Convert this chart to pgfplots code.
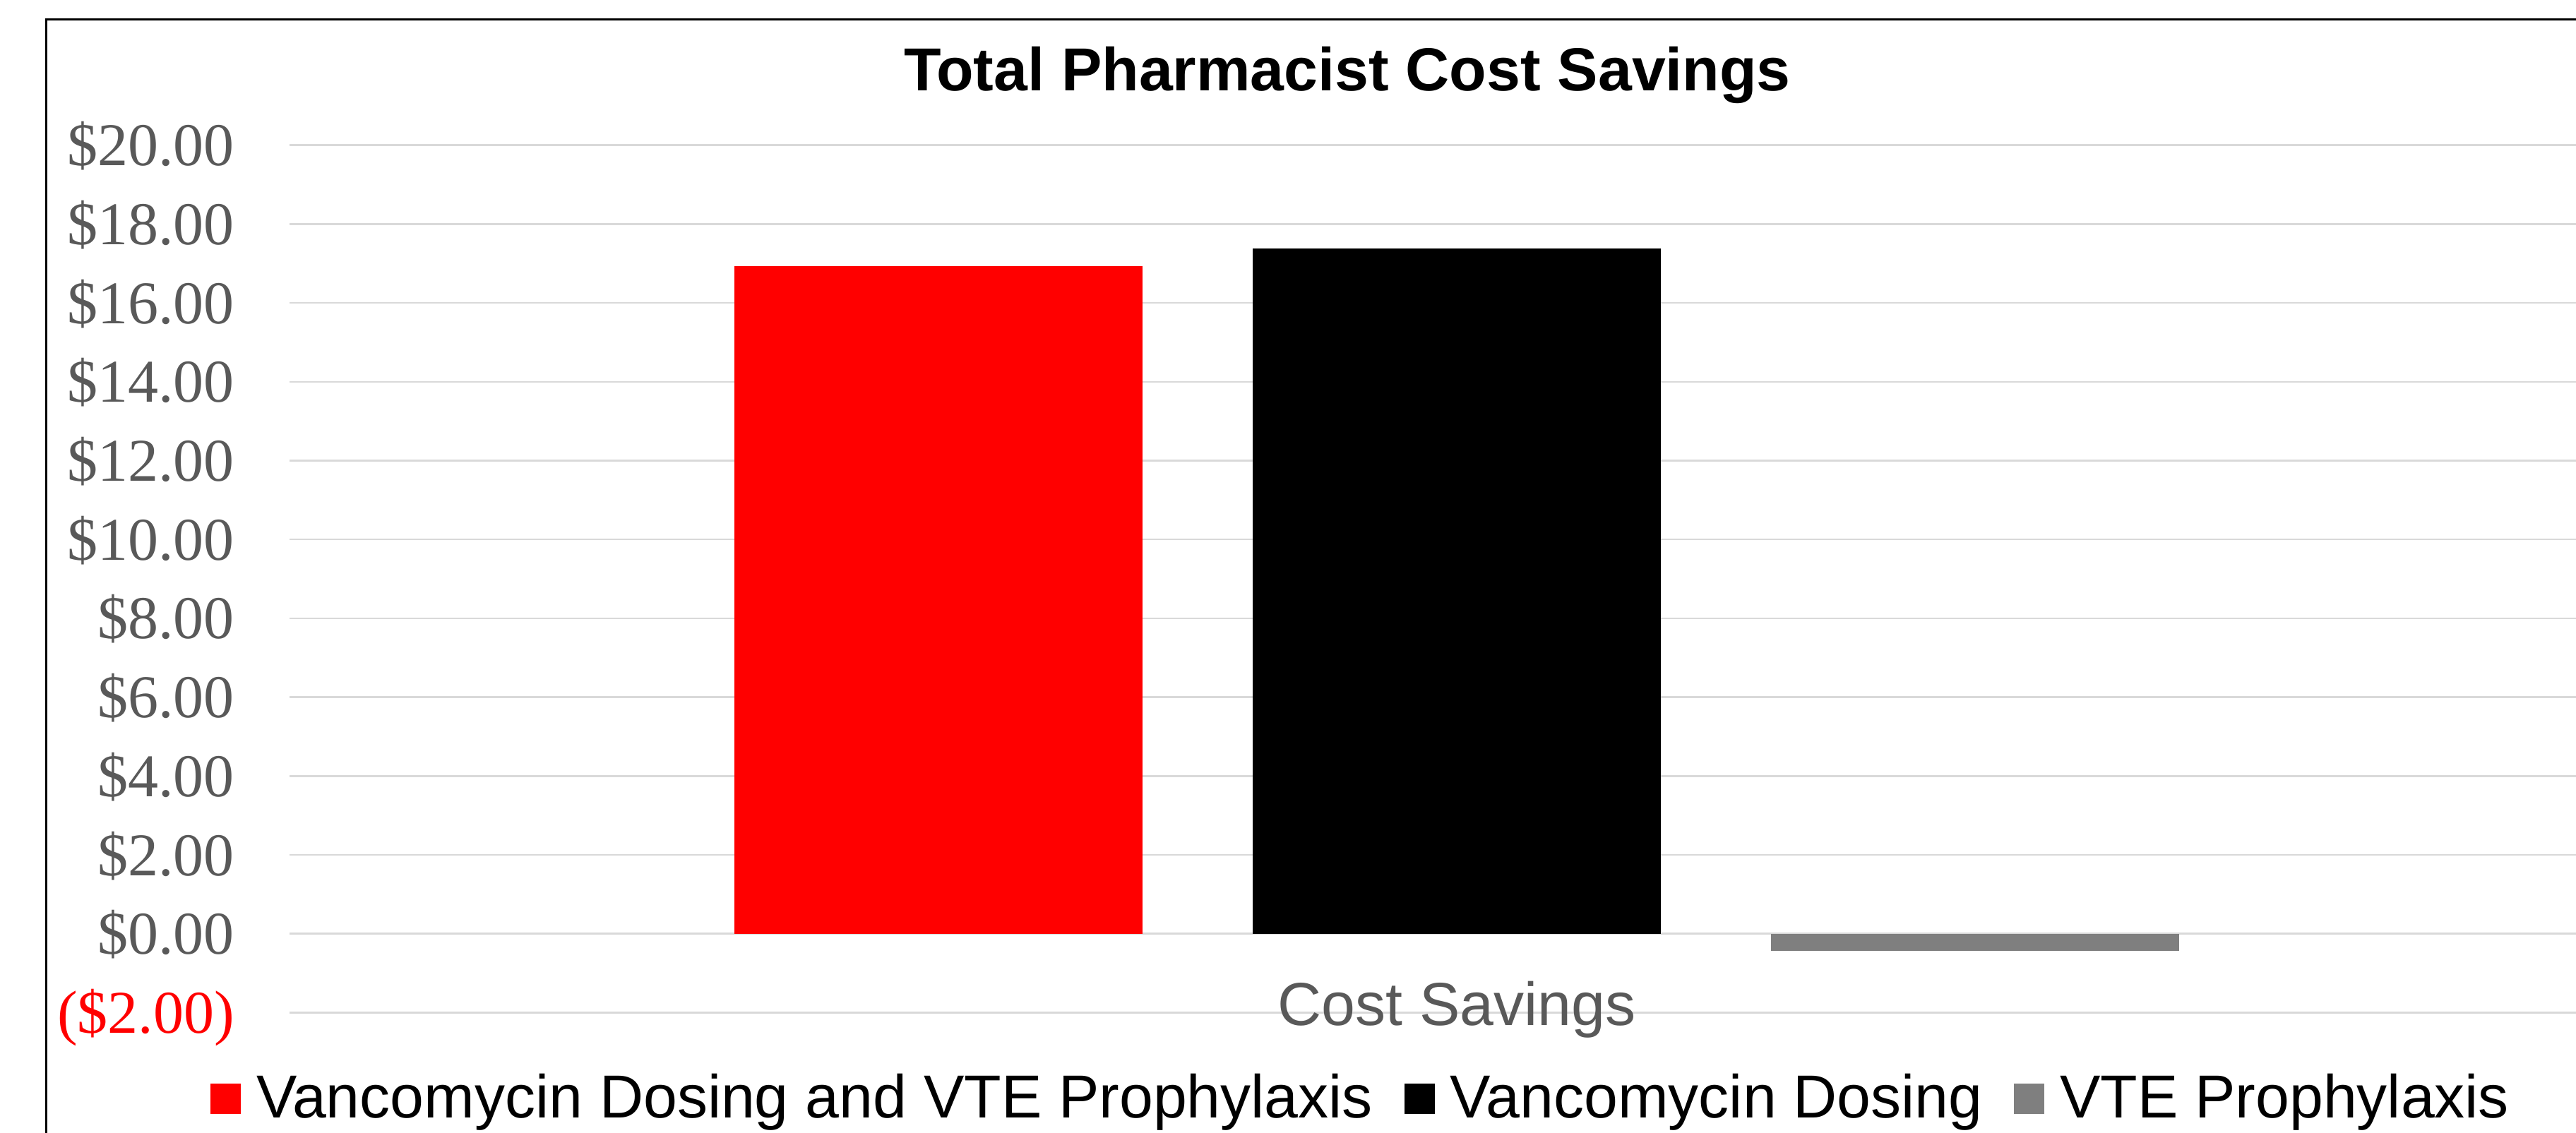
\documentclass[border=0pt]{standalone}
\usepackage{pgfplots}
\pgfplotsset{compat=1.18}
\usepackage{fontspec}
\setmainfont{Liberation Sans}
\newfontfamily\serifnum{Liberation Serif}

\definecolor{gridgray}{HTML}{D9D9D9}
\definecolor{labelgray}{HTML}{595959}
\definecolor{vtegray}{HTML}{7F7F7F}

\pgfplotsset{
  sq/.style={legend image code/.code={\draw[##1,/tikz/.cd,draw=none] (0pt,-2.8pt) rectangle (6pt,3.2pt);}},
}
\newcommand{\pad}{\hspace{2.5pt}}

\begin{document}
\begin{tikzpicture}
\begin{axis}[
    at={(0,0)}, anchor=south west,
    scale only axis,
    width=461.2pt, height=171.4pt,
    xmin=-0.5, xmax=0.5,
    ymin=-2, ymax=20,
    ybar=21.8pt, bar width=80.6pt,
    axis line style={draw=none},
    major tick length=0pt,
    ymajorgrids,
    major grid style={gridgray, line width=0.35pt},
    ytick={-2,0,...,20},
    % accounting format: positives keep room for the closing parenthesis
    yticklabels={\textcolor{red}{(\$2.00)},\$0.00\pad,\$2.00\pad,\$4.00\pad,\$6.00\pad,\$8.00\pad,\$10.00\pad,\$12.00\pad,\$14.00\pad,\$16.00\pad,\$18.00\pad,\$20.00\pad},
    yticklabel style={font=\serifnum\fontsize{12}{14}\selectfont, text=labelgray,
        anchor=base east, inner sep=0pt, xshift=-10.7pt, yshift=-4.06pt},
    xtick={0},
    xticklabels={Cost Savings},
    xticklabel style={font=\fontsize{12}{14}\selectfont, text=labelgray,
        anchor=base, inner sep=0pt, yshift=-2.5pt},
    title={Total Pharmacist Cost Savings},
    title style={at={(axis description cs:0.4531,1)}, anchor=base, yshift=4.7pt,
        inner sep=0pt, font=\bfseries\fontsize{12}{14}\selectfont},
    legend columns=3,
    legend style={at={(axis description cs:-0.0339,0)}, anchor=north west, yshift=-12.1pt,
        draw=none, fill=none, inner sep=0pt, outer sep=0pt,
        font=\fontsize{12}{14}\selectfont,
        nodes={inner sep=0pt},
        /tikz/every odd column/.append style={column sep=3.1pt},
        /tikz/every even column/.append style={column sep=6.2pt}},
]
% cost savings per series
\addplot[fill=red, draw=none, sq] coordinates {(0,16.94)};
\addplot[fill=black, draw=none, sq] coordinates {(0,17.38)};
\addplot[fill=vtegray, draw=none, sq] coordinates {(0,-0.44)};
\legend{Vancomycin Dosing and VTE Prophylaxis, Vancomycin Dosing, VTE Prophylaxis}
\end{axis}
% chart frame, cut off on the right and at the bottom like the reference
\draw[black, line width=0.4pt] (-48.1pt,-40pt) rectangle (466.1pt,196.2pt);
\pgfresetboundingbox
\path[use as bounding box] (-57.2pt,-23.7pt) rectangle (451.7pt,200.1pt);
\end{tikzpicture}
\end{document}
